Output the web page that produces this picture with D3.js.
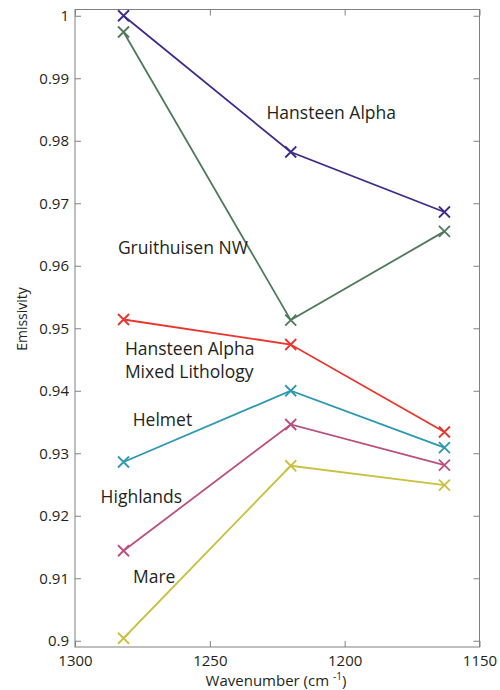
<!DOCTYPE html>
<html>
<head>
<meta charset="utf-8">
<script src="https://cdn.jsdelivr.net/npm/d3@7"></script>
<style>
  body { margin: 0; background: #fff; }
  text { font-family: "Open Sans", sans-serif; fill: #231f20; }
</style>
</head>
<body>
<svg id="chart" width="500" height="690"></svg>
<script>
// wavenumbers of the three channels (cm-1)
const wavenumbers = [1282, 1220, 1163];

// emissivity per site
const hansteenAlpha = [1.0, 0.9782, 0.9686];
const gruithuisenNW = [0.9974, 0.9513, 0.9655];
const hansteenMixed = [0.9514, 0.9474, 0.9334];
const helmet = [0.9286, 0.9400, 0.9309];
const highlands = [0.9144, 0.9346, 0.9281];
const mare = [0.9004, 0.9280, 0.9249];

const seriesNames = ['Hansteen Alpha', 'Gruithuisen NW', 'Hansteen Alpha Mixed Lithology', 'Helmet', 'Highlands', 'Mare'];
const seriesValues = [hansteenAlpha, gruithuisenNW, hansteenMixed, helmet, highlands, mare];
const seriesColors = ['#3f2a8a', '#50795a', '#e8362c', '#2d98b0', '#bb4f80', '#c9c13f'];

// tick labels
const xTicks = [1300, 1250, 1200, 1150];
const yTicks = [0.9, 0.91, 0.92, 0.93, 0.94, 0.95, 0.96, 0.97, 0.98, 0.99, 1];
const yTickLabels = ['0.9', '0.91', '0.92', '0.93', '0.94', '0.95', '0.96', '0.97', '0.98', '0.99', '1'];

// text labels placed in data coordinates [wavenumber, emissivity]
const labelTexts = ['Hansteen Alpha', 'Gruithuisen NW', 'Hansteen Alpha', 'Mixed Lithology', 'Helmet', 'Highlands', 'Mare'];
const labelX = [1229, 1284.1, 1281.5, 1281.5, 1278.6, 1290.5, 1278.5];
const labelY = [0.9845, 0.9629, 0.9467, 0.9431, 0.9353, 0.9230, 0.9102];

const margin = { top: 9.5, left: 75 };
const width = 404.5, height = 637.5;

const svg = d3.select('#chart');
const g = svg.append('g').attr('transform', `translate(${margin.left},${margin.top})`);

const x = d3.scaleLinear().domain([1300, 1150]).range([0, width]);
const y = d3.scaleLinear().domain([0.899, 1.001]).range([height, 0]);

// frame
g.append('rect')
  .attr('width', width).attr('height', height)
  .attr('fill', 'none').attr('stroke', '#808080').attr('stroke-width', 1);

function styleAxis(sel) {
  sel.select('.domain').remove();
  sel.selectAll('.tick line').attr('stroke', '#808080');
  sel.selectAll('text').attr('font-size', 15).attr('fill', '#231f20');
}

g.append('g')
  .call(d3.axisLeft(y).tickValues(yTicks).tickFormat((d, i) => yTickLabels[i])
    .tickSizeInner(-6).tickSizeOuter(0).tickPadding(6))
  .call(styleAxis);

g.append('g').attr('transform', `translate(${width},0)`)
  .call(d3.axisRight(y).tickValues(yTicks).tickFormat('')
    .tickSizeInner(-6).tickSizeOuter(0))
  .call(styleAxis);

g.append('g').attr('transform', `translate(0,${height})`)
  .call(d3.axisBottom(x).tickValues(xTicks).tickFormat(d3.format('d'))
    .tickSizeInner(-6).tickSizeOuter(0).tickPadding(8))
  .call(styleAxis);

g.append('g')
  .call(d3.axisTop(x).tickValues(xTicks).tickFormat('')
    .tickSizeInner(-6).tickSizeOuter(0))
  .call(styleAxis);

// lines and markers
const line = d3.line().x((d, i) => x(wavenumbers[i])).y(d => y(d));
const s = 5.5;

seriesValues.forEach((vals, k) => {
  const grp = g.append('g').attr('class', 'series').attr('data-name', seriesNames[k]);
  grp.append('path')
    .attr('d', line(vals))
    .attr('fill', 'none')
    .attr('stroke', seriesColors[k])
    .attr('stroke-width', 1.8);
  grp.selectAll('path.marker')
    .data(vals)
    .join('path')
    .attr('class', 'marker')
    .attr('d', (d, i) => {
      const cx = x(wavenumbers[i]), cy = y(d);
      return `M${cx - s},${cy - s}L${cx + s},${cy + s}M${cx - s},${cy + s}L${cx + s},${cy - s}`;
    })
    .attr('stroke', seriesColors[k])
    .attr('stroke-width', 1.8);
});

// annotations
g.selectAll('text.label')
  .data(labelTexts)
  .join('text')
  .attr('class', 'label')
  .attr('x', (d, i) => x(labelX[i]))
  .attr('y', (d, i) => y(labelY[i]))
  .attr('dy', '0.35em')
  .attr('font-size', 17.5)
  .text(d => d);

// axis titles
svg.append('text')
  .attr('transform', `translate(27,319) rotate(-90)`)
  .attr('text-anchor', 'middle')
  .attr('font-size', 14)
  .text('Emissivity');

const xl = svg.append('text')
  .attr('x', 276).attr('y', 686)
  .attr('text-anchor', 'middle')
  .attr('font-size', 15);
xl.append('tspan').text('Wavenumber (cm ');
xl.append('tspan').attr('dy', -6).attr('font-size', 10).text('-1');
xl.append('tspan').attr('dy', 6).text(')');
</script>
</body>
</html>
